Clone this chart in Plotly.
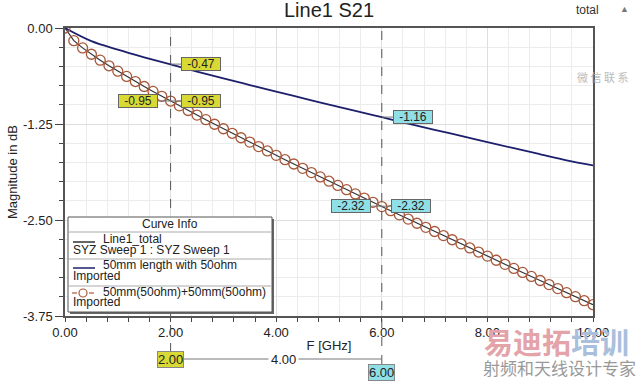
import plotly.graph_objects as go

# ---------------- data ----------------
freq_fine = [0.0, 0.167, 0.333, 0.5, 0.667, 0.833, 1.0, 1.167, 1.333, 1.5, 1.667, 1.833,
             2.0, 2.167, 2.333, 2.5, 2.667, 2.833, 3.0, 3.167, 3.333, 3.5, 3.667, 3.833,
             4.0, 4.167, 4.333, 4.5, 4.667, 4.833, 5.0, 5.167, 5.333, 5.5, 5.667, 5.833,
             6.0, 6.167, 6.333, 6.5, 6.667, 6.833, 7.0, 7.167, 7.333, 7.5, 7.667, 7.833,
             8.0, 8.167, 8.333, 8.5, 8.667, 8.833, 9.0, 9.167, 9.333, 9.5, 9.667, 9.833, 10.0]
s21_100mm = [0.0, -0.165, -0.259, -0.342, -0.419, -0.492, -0.562, -0.630, -0.697, -0.762,
             -0.826, -0.889, -0.951, -1.013, -1.074, -1.134, -1.194, -1.253, -1.312, -1.371,
             -1.429, -1.486, -1.544, -1.601, -1.658, -1.715, -1.771, -1.827, -1.883, -1.939,
             -1.995, -2.050, -2.105, -2.160, -2.215, -2.270, -2.325, -2.379, -2.433, -2.488,
             -2.542, -2.596, -2.650, -2.703, -2.757, -2.810, -2.864, -2.917, -2.970, -3.024,
             -3.077, -3.130, -3.183, -3.235, -3.288, -3.341, -3.393, -3.446, -3.498, -3.551, -3.603]
line1_total = list(s21_100mm)

freq_50 = [0.0, 0.5, 1.0, 1.5, 2.0, 2.5, 3.0, 3.5, 4.0, 4.5, 5.0,
           5.5, 6.0, 6.5, 7.0, 7.5, 8.0, 8.5, 9.0, 9.5, 10.0]
s21_50mm = [0.0, -0.171, -0.281, -0.381, -0.475, -0.567, -0.656, -0.743, -0.829, -0.913, -0.997,
            -1.080, -1.162, -1.244, -1.325, -1.405, -1.485, -1.565, -1.644, -1.723, -1.790]

marker_freqs = [2.0, 6.0]
marker_vals_50 = [-0.47, -1.16]
marker_vals_100 = [-0.95, -2.32]

x_ticks = [0, 2, 4, 6, 8, 10]
x_ticktext = ["0.00", "2.00", "4.00", "6.00", "8.00", "10.00"]
y_ticks = [0, -1.25, -2.50, -3.75]
y_ticktext = ["0.00", "-1.25", "-2.50", "-3.75"]

# ---------------- styling ----------------
FONT = "Liberation Sans, Arial, sans-serif"
NAVY = "#1c1f6b"
BROWN = "#a8583a"
DARK = "#333333"
YEL = "#d9d936"
CYAN = "#8edfe6"

W, H = 640, 383
L, R, T, B = 65, 593, 28, 316


def px(xp):
    return (xp - L) / (R - L)


def py(yp):
    return (B - yp) / (B - T)


fig = go.Figure()

fig.add_trace(go.Scatter(x=freq_fine, y=line1_total, mode="lines",
                         line=dict(color=DARK, width=1.2), name="Line1_total"))
fig.add_trace(go.Scatter(x=freq_50, y=s21_50mm, mode="lines", line_shape="spline",
                         line=dict(color=NAVY, width=1.8), name="50mm length with 50ohm"))
fig.add_trace(go.Scatter(x=freq_fine, y=s21_100mm, mode="markers",
                         marker=dict(symbol="circle-open", size=10, color=BROWN,
                                     line=dict(color=BROWN, width=1.3)),
                         name="50mm(50ohm)+50mm(50ohm)"))

fig.update_layout(
    width=W, height=H, showlegend=False,
    margin=dict(l=L, r=W - R, t=T, b=H - B, autoexpand=False),
    paper_bgcolor="white", plot_bgcolor="white",
    font=dict(family=FONT, size=13, color="#222222"),
    xaxis=dict(range=[0, 10], tickvals=x_ticks, ticktext=x_ticktext, automargin=False,
               showgrid=True, gridcolor="#dedede", gridwidth=1,
               minor=dict(dtick=0.4, showgrid=True, gridcolor="#ececec",
                          ticks="outside", ticklen=4, tickcolor="#444"),
               ticks="outside", ticklen=4, tickcolor="#444",
               showline=True, linecolor="#555", linewidth=1.5, mirror=True,
               zeroline=False, tickfont=dict(size=13),
               title=dict(text="F [GHz]", font=dict(size=13), standoff=2)),
    yaxis=dict(range=[-3.75, 0], tickvals=y_ticks, ticktext=y_ticktext, automargin=False,
               showgrid=True, gridcolor="#dedede", gridwidth=1,
               minor=dict(dtick=0.25, showgrid=True, gridcolor="#ececec",
                          ticks="outside", ticklen=4, tickcolor="#444"),
               ticks="outside", ticklen=8, tickcolor="#444",
               showline=True, linecolor="#555", linewidth=1.5, mirror=True,
               zeroline=False, tickfont=dict(size=13),
               title=dict(text="Magnitude in dB", font=dict(size=13), standoff=2)),
)

shapes = []
anns = []


def text_at(xp, yp, text, size=12, color="#222", xanchor="center", family=None):
    f = dict(size=size, color=color)
    if family:
        f["family"] = family
    anns.append(dict(x=px(xp), y=py(yp), xref="paper", yref="paper", text=text,
                     xanchor=xanchor, yanchor="middle", showarrow=False, font=f))


# title and corner text
text_at(329, 10, "Line1 S21", size=20, color="#222")
text_at(574, 10, "total", size=12, color="#333", xanchor="left")
text_at(624, 9, "▲", size=9, color="#777")

# vertical marker lines
for f, bottom in zip(marker_freqs, [352, 364]):
    shapes.append(dict(type="line", xref="x", yref="paper", x0=f, x1=f,
                       y0=py(bottom), y1=1, line=dict(color="#555", width=1, dash="dash")))


# value labels on curves
def val_label(f, v, offset, color):
    anns.append(dict(x=f, y=v, xref="x", yref="y", text=f"{v:.2f}",
                     showarrow=True, ax=offset, ay=0, arrowhead=0, arrowwidth=1,
                     arrowcolor="#777", bgcolor=color, bordercolor="#666",
                     borderwidth=1, borderpad=0, width=38, height=12,
                     font=dict(size=12, color="#222")))


val_label(marker_freqs[0], marker_vals_50[0], 30, YEL)
val_label(marker_freqs[0], marker_vals_100[0], -33, YEL)
val_label(marker_freqs[0], marker_vals_100[0], 30, YEL)
val_label(marker_freqs[1], marker_vals_50[1], 31, CYAN)
val_label(marker_freqs[1], marker_vals_100[1], -31, CYAN)
val_label(marker_freqs[1], marker_vals_100[1], 29, CYAN)

# bottom delta readout
shapes.append(dict(type="line", xref="x", yref="paper", x0=marker_freqs[0], x1=marker_freqs[1],
                   y0=py(359), y1=py(359), line=dict(color="#777", width=1)))
anns.append(dict(x=marker_freqs[0], y=py(359), xref="x", yref="paper", xanchor="center",
                 yanchor="middle", text=f"{marker_freqs[0]:.2f}", showarrow=False, bgcolor=YEL,
                 bordercolor="#888", borderwidth=1, borderpad=0, font=dict(size=13)))
anns.append(dict(x=marker_freqs[1], y=py(372), xref="x", yref="paper", xanchor="center",
                 yanchor="middle", text=f"{marker_freqs[1]:.2f}", showarrow=False, bgcolor=CYAN,
                 bordercolor="#888", borderwidth=1, borderpad=0, font=dict(size=13)))
anns.append(dict(x=(marker_freqs[0] + marker_freqs[1]) / 2 + 0.13, y=py(359), xref="x",
                 yref="paper", xanchor="center", yanchor="middle",
                 text=f"{marker_freqs[1] - marker_freqs[0]:.2f}", showarrow=False,
                 bgcolor="white", borderpad=2, font=dict(size=13)))

# Curve Info box
bx0, bx1, by0, by1 = 68, 272, 217, 312
shapes.append(dict(type="rect", xref="paper", yref="paper", x0=px(bx0 + 2), x1=px(bx1 + 2),
                   y0=py(by1 + 2), y1=py(by0 + 2), fillcolor="#666", line=dict(width=0)))
shapes.append(dict(type="rect", xref="paper", yref="paper", x0=px(bx0), x1=px(bx1),
                   y0=py(by1), y1=py(by0), fillcolor="white", line=dict(color="#555", width=1)))
for sy in [232, 259, 286]:
    shapes.append(dict(type="line", xref="paper", yref="paper", x0=px(bx0), x1=px(bx1),
                       y0=py(sy), y1=py(sy), line=dict(color="#aaa", width=1)))
text_at(170, 224, "Curve Info")

entries = [
    ("Line1_total", "SYZ Sweep 1 : SYZ Sweep 1", DARK, 242, 239, 250),
    ("50mm length with 50ohm", "Imported", NAVY, 268, 265, 276),
    ("50mm(50ohm)+50mm(50ohm)", "Imported", BROWN, 293, 292, 302),
]
for i, (t1, t2, col, ly, ty1, ty2) in enumerate(entries):
    if i < 2:
        shapes.append(dict(type="line", xref="paper", yref="paper", x0=px(73), x1=px(95),
                           y0=py(ly), y1=py(ly), line=dict(color=col, width=1.5)))
    else:
        shapes.append(dict(type="line", xref="paper", yref="paper", x0=px(72), x1=px(77),
                           y0=py(ly), y1=py(ly), line=dict(color=col, width=1.2)))
        shapes.append(dict(type="line", xref="paper", yref="paper", x0=px(89), x1=px(94),
                           y0=py(ly), y1=py(ly), line=dict(color=col, width=1.2)))
        shapes.append(dict(type="circle", xref="paper", yref="paper", x0=px(79), x1=px(87),
                           y0=py(ly + 4), y1=py(ly - 4), line=dict(color=col, width=1.2)))
    text_at(101, ty1, t1, xanchor="left")
    text_at(71, ty2, t2, xanchor="left")

# watermark text
text_at(482, 341,
        "<b><span style='color:#e3a3a8'>易迪拓</span><span style='color:#a9bfdc'>培训</span></b>",
        size=29, xanchor="left", family="Noto Sans CJK SC")
text_at(481, 367, "射频和天线设计专家", size=17, color="#999999", xanchor="left",
        family="Noto Sans CJK SC")
text_at(602, 77, "微 信 联 系", size=11, color="#bbbbbb", family="Noto Sans CJK SC")

fig.update_layout(shapes=shapes, annotations=anns)
fig.write_html("out.html", config={"displayModeBar": False},
               post_script="document.body.style.margin='0';")
